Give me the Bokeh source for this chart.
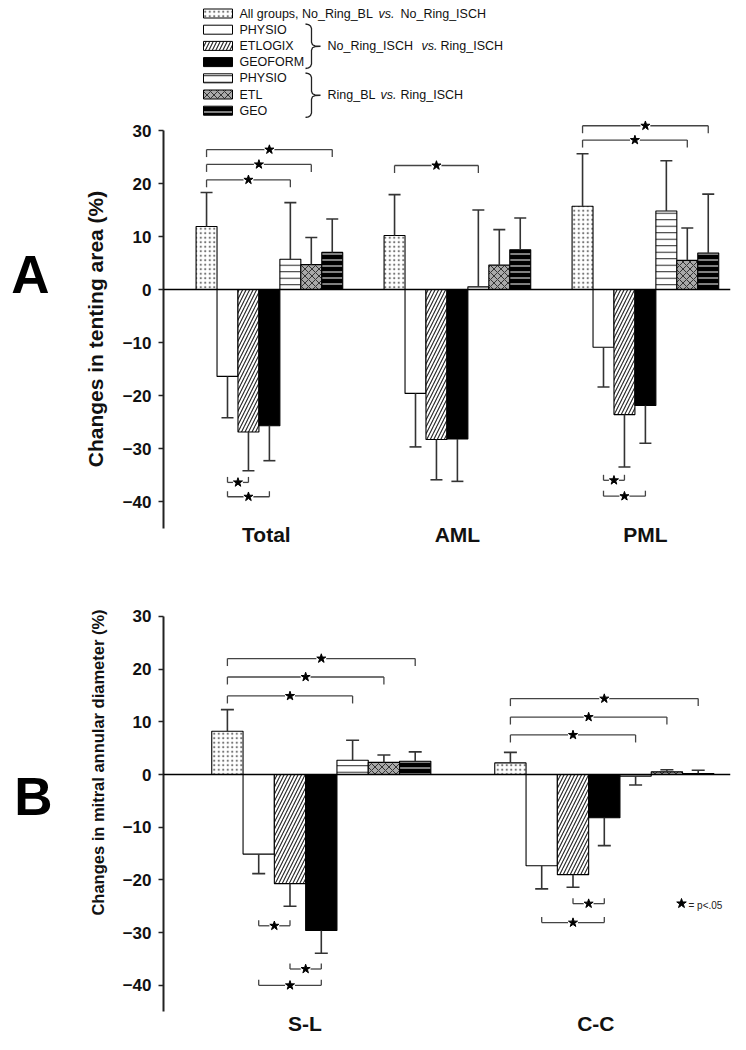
import numpy as np
from bokeh.plotting import figure
from bokeh.layouts import column
from bokeh.models import Range1d, FixedTicker, Span
from bokeh.embed import file_html
from bokeh.resources import INLINE
from bokeh.core.properties import value

FONT = "Liberation Sans"
W = 746

# ---------------- data ----------------
legend_rows = ["All groups, No_Ring_BL vs. No_Ring_ISCH", "PHYSIO", "ETLOGIX", "GEOFORM",
               "PHYSIO", "ETL", "GEO"]

groups_A = ["Total", "AML", "PML"]
total_mean = [11.9, -16.4, -26.9, -25.7, 5.7, 4.7, 7.0]
total_sd = [6.4, 7.8, 7.3, 6.6, 10.7, 5.1, 6.3]
aml_mean = [10.2, -19.6, -28.3, -28.2, 0.5, 4.6, 7.5]
aml_sd = [7.7, 10.1, 7.6, 8.0, 14.5, 6.7, 6.0]
pml_mean = [15.7, -10.9, -23.6, -21.9, 14.8, 5.5, 6.9]
pml_sd = [9.9, 7.5, 9.9, 7.1, 9.5, 6.1, 11.1]

groups_B = ["S-L", "C-C"]
sl_mean = [8.2, -15.1, -20.7, -29.6, 2.7, 2.3, 2.5]
sl_sd = [4.1, 3.7, 4.3, 4.3, 3.8, 1.4, 1.8]
cc_mean = [2.2, -17.3, -19.0, -8.2, -0.3, 0.5, 0.2]
cc_sd = [2.0, 4.4, 2.4, 5.3, 1.7, 0.4, 0.6]

# significance brackets: (group index, series i, series j, bracket level)
sig_A = [(0, 0, 4, 20.7), (0, 0, 5, 23.6), (0, 0, 6, 26.4), (0, 1, 2, -36.4), (0, 1, 3, -39.1),
         (1, 0, 4, 23.4),
         (2, 0, 5, 28.2), (2, 0, 6, 30.9), (2, 1, 2, -36.0), (2, 1, 3, -39.0)]
sig_B = [(0, 0, 4, 14.9), (0, 0, 5, 18.5), (0, 0, 6, 22.0), (0, 1, 2, -28.7), (0, 2, 3, -36.9),
         (0, 1, 3, -40.0),
         (1, 0, 4, 7.5), (1, 0, 5, 10.9), (1, 0, 6, 14.4), (1, 2, 3, -24.5), (1, 1, 3, -28.1)]

y_ticks = [-40, -30, -20, -10, 0, 10, 20, 30]
ylabel_A = "Changes in tenting area (%)"
ylabel_B = "Changes in mitral annular diameter (%)"

# ---------------- styles ----------------
styles = [
    dict(fill_color="white", hatch_pattern=".", hatch_color="#777777", hatch_scale=4.5, hatch_weight=1),
    dict(fill_color="white"),
    dict(fill_color="white", hatch_pattern="/", hatch_color="#222222", hatch_scale=7, hatch_weight=1.1),
    dict(fill_color="black"),
    dict(fill_color="white", hatch_pattern="-", hatch_color="#222222", hatch_scale=6.5, hatch_weight=1),
    dict(fill_color="#a9a9a9", hatch_pattern="x", hatch_color="#333333", hatch_scale=7, hatch_weight=1),
    dict(fill_color="black", hatch_pattern="-", hatch_color="white", hatch_scale=6, hatch_weight=1),
]

FL, FR = 163, 730  # frame left / right (page px)


def make_panel(groups, means, sds, sigs, cfg):
    ppx, ppy = cfg["ppx"], cfg["ppy"]
    top, h, fb = cfg["fig_top"], cfg["height"], cfg["frame_bottom"]
    gx0, zero = cfg["group1_px"], cfg["zero_py"]

    def dx(px):
        return 1 + (px - gx0) / ppx

    def dy(py):
        return (zero - py) / ppy

    p = figure(width=W, height=h, x_range=Range1d(dx(FL), dx(FR)),
               y_range=Range1d(dy(fb), dy(top)), output_backend="svg",
               toolbar_location=None, min_border_left=FL, min_border_right=W - FR,
               min_border_top=0, min_border_bottom=top + h - fb)
    p.grid.visible = False
    p.outline_line_color = None
    p.background_fill_color = "white"
    p.border_fill_color = "white"

    w = cfg["bar_px"] / ppx
    ng = len(groups)
    for k in range(7):
        xs = [g + 1 + (k - 3) * w for g in range(ng)]
        ys = [means[g][k] for g in range(ng)]
        p.vbar(x=xs, top=ys, bottom=0, width=w, line_color="black", line_width=1.1, **styles[k])

    ex, ey0, ey1 = [], [], []
    for g in range(ng):
        for k in range(7):
            m, s = means[g][k], sds[g][k]
            ex.append(g + 1 + (k - 3) * w)
            ey0.append(m)
            ey1.append(m + np.sign(m) * s)
    p.segment(ex, ey0, ex, ey1, line_color="#333333", line_width=1.6)
    p.scatter(ex, ey1, marker="dash", size=cfg["cap"], line_color="#333333", line_width=1.6)

    p.add_layout(Span(location=0, dimension="width", line_color="black", line_width=1.5))

    # significance brackets
    tdn, tup = 7.5 / ppy, 5.5 / ppy
    x0s, y0s, x1s, y1s, sx, sy = [], [], [], [], [], []
    for g, i, j, y in sigs:
        xi = g + 1 + (i - 3) * w
        xj = g + 1 + (j - 3) * w
        t = -tdn if y > 0 else tup
        x0s += [xi, xi, xj]
        y0s += [y, y, y]
        x1s += [xj, xi, xj]
        y1s += [y, y + t, y + t]
        sx.append((xi + xj) / 2)
        sy.append(y)
    p.segment(x0s, y0s, x1s, y1s, line_color="#444444", line_width=1.3, level="overlay")
    p.scatter(sx, sy, marker="circle", size=10, fill_color="white", line_color=None, level="overlay")
    p.scatter(sx, sy, marker="star", size=9.5, fill_color="black", line_color="black", level="overlay")

    ya = p.yaxis[0]
    ya.ticker = FixedTicker(ticks=y_ticks)
    ya.bounds = (-45, 30)
    ya.axis_line_width = 2
    ya.axis_line_color = "#222222"
    ya.major_tick_out = 5
    ya.major_tick_in = 0
    ya.major_tick_line_width = 1.5
    ya.major_tick_line_color = "#222222"
    ya.minor_tick_line_color = None
    ya.major_label_standoff = 7
    ya.major_label_text_font = FONT
    ya.major_label_text_font_style = "bold"
    ya.major_label_text_font_size = "17px"
    ya.major_label_text_color = "#111111"

    xa = p.xaxis[0]
    ticks = [g + 1 + cfg["label_shift"][g] / ppx for g in range(ng)]
    xa.ticker = FixedTicker(ticks=ticks)
    xa.major_label_overrides = {t: name for t, name in zip(ticks, groups)}
    xa.axis_line_color = None
    xa.major_tick_line_color = None
    xa.minor_tick_line_color = None
    xa.major_tick_out = 0
    xa.major_tick_in = 0
    xa.major_label_standoff = cfg["xlab_standoff"]
    xa.major_label_text_font = FONT
    xa.major_label_text_font_style = "bold"
    xa.major_label_text_font_size = "21px"
    xa.major_label_text_color = "#111111"

    lx, ly = cfg["ylab_px"]
    p.text(x=[dx(lx)], y=[dy(ly)], text=[cfg["ylabel"]], angle=np.pi / 2,
           text_align="center", text_baseline="middle", text_font=value(FONT),
           text_font_style="bold", text_font_size=cfg["ylab_size"], text_color="#111111",
           level="overlay")
    ax_, ay_ = cfg["letter_px"]
    p.text(x=[dx(ax_)], y=[dy(ay_)], text=[cfg["letter"]], text_align="center",
           text_baseline="middle", text_font=value(FONT), text_font_style="bold",
           text_font_size="53px", text_color="black", level="overlay")

    if cfg.get("note"):
        (nsx, nsy), (ntx, nty) = cfg["note"]
        p.scatter([dx(nsx)], [dy(nsy)], marker="star", size=10, fill_color="black",
                  line_color="black", level="overlay")
        p.text(x=[dx(ntx)], y=[dy(nty)], text=["= p<.05"], text_align="left",
               text_baseline="middle", text_font=value(FONT), text_font_size="10px",
               text_color="#222222", level="overlay")
    return p


# ---------------- legend (coordinates = page pixels) ----------------
LH = 118
L = figure(width=W, height=LH, x_range=Range1d(FL, FR), y_range=Range1d(LH, 0),
           output_backend="svg", toolbar_location=None, x_axis_type=None, y_axis_type=None,
           min_border_left=FL, min_border_right=W - FR, min_border_top=0, min_border_bottom=0)
L.grid.visible = False
L.outline_line_color = None
row_y = [13 + 16.2 * i for i in range(7)]
for k in range(7):
    L.quad(left=[203], right=[232], top=[row_y[k] - 4.5], bottom=[row_y[k] + 4.5],
           line_color="black", line_width=1, **styles[k])

tk = dict(text_align="left", text_baseline="middle", text_font=value(FONT),
          text_font_size="12.5px", text_color="#111111")
L.text(x=[239], y=[row_y[0]], text=["All groups, No_Ring_BL"], **tk)
L.text(x=[378], y=[row_y[0]], text=["vs."], text_font_style="italic", **tk)
L.text(x=[400], y=[row_y[0]], text=["No_Ring_ISCH"], **tk)
for k in range(1, 7):
    L.text(x=[239], y=[row_y[k]], text=[legend_rows[k]], **tk)


def brace(yt, yb, xl=305, xb=311, xt=320):
    ym = (yt + yb) / 2
    xs = [xl, xl + 3, xb - 1, xb, xb, xb + 1, xb + 3.5, xt, xb + 3.5, xb + 1, xb, xb, xb - 1, xl + 3, xl]
    ys = [yt, yt + 0.6, yt + 2, yt + 4.5, ym - 4, ym - 1.5, ym - 0.3, ym, ym + 0.3, ym + 1.5, ym + 4,
          yb - 4.5, yb - 2, yb - 0.6, yb]
    L.line(xs, ys, line_color="#222222", line_width=1.3)
    return ym


m1 = brace(23.5, 68)
m2 = brace(72.5, 117)
L.text(x=[327], y=[m1], text=["No_Ring_ISCH"], **tk)
L.text(x=[421], y=[m1], text=["vs."], text_font_style="italic", **tk)
L.text(x=[440], y=[m1], text=["Ring_ISCH"], **tk)
L.text(x=[327], y=[m2], text=["Ring_BL"], **tk)
L.text(x=[380], y=[m2], text=["vs."], text_font_style="italic", **tk)
L.text(x=[400], y=[m2], text=["Ring_ISCH"], **tk)

# ---------------- panels ----------------
cfgA = dict(ppx=188.0, ppy=5.3, fig_top=LH, height=560 - LH, frame_bottom=528, group1_px=268.9,
            zero_py=289, bar_px=20.95, cap=12, label_shift=[-3, 0, 0], xlab_standoff=-6,
            ylab_px=(95, 328.5), ylabel=ylabel_A, ylab_size="21px", letter="A",
            letter_px=(30, 274))
cfgB = dict(ppx=283.0, ppy=5.271, fig_top=560, height=1050 - 560, frame_bottom=1012,
            group1_px=320.8, zero_py=774, bar_px=31.3, cap=13, label_shift=[-16.5, -8.5],
            xlab_standoff=-1, ylab_px=(97, 762), ylabel=ylabel_B, ylab_size="16.5px",
            letter="B", letter_px=(33, 796), note=((681, 903), (688, 905)))

pA = make_panel(groups_A, [total_mean, aml_mean, pml_mean], [total_sd, aml_sd, pml_sd], sig_A, cfgA)
pB = make_panel(groups_B, [sl_mean, cc_mean], [sl_sd, cc_sd], sig_B, cfgB)

layout = column(L, pA, pB, spacing=0)
open("out.html", "w").write(file_html(layout, INLINE))
